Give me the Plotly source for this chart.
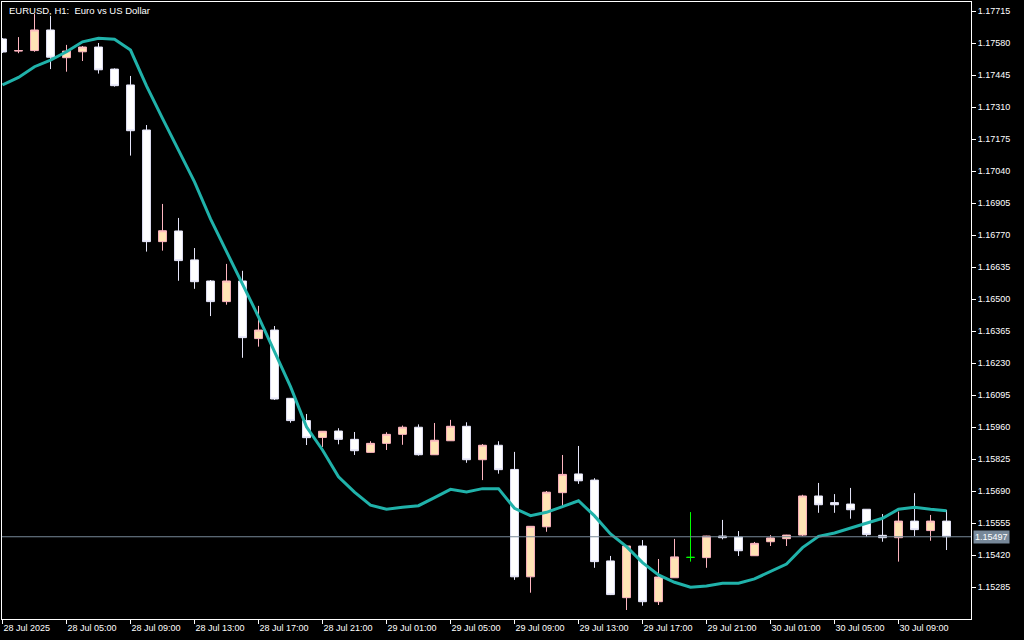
import plotly.graph_objects as go

# ---------------- data (EURUSD H1, 28 Jul 01:00 -> 30 Jul 12:00) ----------------
bars = list(range(60))

opens = [1.17597, 1.17546, 1.17548, 1.17635, 1.17518, 1.17543, 1.17563, 1.17470, 1.17403, 1.17213,
         1.16742, 1.16787, 1.16665, 1.16576, 1.16489, 1.16576, 1.16333, 1.16369, 1.16081, 1.15987,
         1.15916, 1.15943, 1.15908, 1.15853, 1.15891, 1.15929, 1.15959, 1.15843, 1.15902, 1.15963,
         1.15822, 1.15883, 1.15781, 1.15328, 1.15539, 1.15683, 1.15762, 1.15736, 1.15395, 1.15240,
         1.15458, 1.15223, 1.15324, 1.15410, 1.15409, 1.15500, 1.15496, 1.15417, 1.15476, 1.15489,
         1.15504, 1.15669, 1.15641, 1.15635, 1.15613, 1.15503, 1.15493, 1.15563, 1.15523, 1.15563]

highs = [1.17601, 1.17605, 1.17702, 1.17694, 1.17572, 1.17567, 1.17580, 1.17473, 1.17441, 1.17234,
         1.16901, 1.16842, 1.16715, 1.16580, 1.16648, 1.16619, 1.16471, 1.16386, 1.16082, 1.16015,
         1.15943, 1.15955, 1.15939, 1.15900, 1.15938, 1.15966, 1.15971, 1.15977, 1.15990, 1.15980,
         1.15888, 1.15900, 1.15855, 1.15542, 1.15690, 1.15842, 1.15880, 1.15744, 1.15416, 1.15458,
         1.15483, 1.15403, 1.15488, 1.15601, 1.15501, 1.15568, 1.15521, 1.15475, 1.15504, 1.15505,
         1.15674, 1.15724, 1.15677, 1.15703, 1.15614, 1.15593, 1.15603, 1.15681, 1.15589, 1.15610]

lows = [1.17538, 1.17537, 1.17543, 1.17470, 1.17459, 1.17504, 1.17451, 1.17396, 1.17105, 1.16700,
        1.16704, 1.16577, 1.16543, 1.16428, 1.16476, 1.16252, 1.16299, 1.16074, 1.15978, 1.15884,
        1.15876, 1.15887, 1.15842, 1.15852, 1.15863, 1.15885, 1.15839, 1.15842, 1.15901, 1.15809,
        1.15736, 1.15763, 1.15315, 1.15261, 1.15518, 1.15627, 1.15720, 1.15366, 1.15251, 1.15188,
        1.15206, 1.15209, 1.15323, 1.15392, 1.15366, 1.15486, 1.15416, 1.15416, 1.15458, 1.15458,
        1.15500, 1.15598, 1.15598, 1.15573, 1.15497, 1.15476, 1.15392, 1.15500, 1.15480, 1.15441]

closes = [1.17542, 1.17548, 1.17635, 1.17520, 1.17546, 1.17563, 1.17467, 1.17400, 1.17210, 1.16742,
          1.16788, 1.16662, 1.16573, 1.16489, 1.16576, 1.16337, 1.16369, 1.16078, 1.15987, 1.15915,
          1.15942, 1.15908, 1.15860, 1.15891, 1.15929, 1.15959, 1.15843, 1.15904, 1.15963, 1.15822,
          1.15883, 1.15780, 1.15328, 1.15541, 1.15685, 1.15760, 1.15733, 1.15392, 1.15253, 1.15458,
          1.15223, 1.15327, 1.15412, 1.15410, 1.15500, 1.15493, 1.15438, 1.15469, 1.15492, 1.15504,
          1.15669, 1.15632, 1.15632, 1.15611, 1.15506, 1.15493, 1.15563, 1.15527, 1.15563, 1.15497]

ma_values = [1.17403, 1.17435, 1.17480, 1.17508, 1.17543, 1.17585, 1.17600, 1.17596, 1.17550, 1.17399,
             1.17262, 1.17129, 1.16994, 1.16838, 1.16700, 1.16559, 1.16425, 1.16278, 1.16130, 1.15961,
             1.15863, 1.15750, 1.15685, 1.15630, 1.15613, 1.15621, 1.15628, 1.15662, 1.15697, 1.15686,
             1.15700, 1.15700, 1.15617, 1.15586, 1.15600, 1.15624, 1.15649, 1.15585, 1.15509, 1.15455,
             1.15388, 1.15336, 1.15305, 1.15284, 1.15289, 1.15301, 1.15301, 1.15319, 1.15350, 1.15382,
             1.15451, 1.15499, 1.15513, 1.15533, 1.15554, 1.15575, 1.15613, 1.15621, 1.15613, 1.15607]

bid_price = 1.15497

x_tick_bars = [0, 4, 8, 12, 16, 20, 24, 28, 32, 36, 40, 44, 48, 52, 56]
x_tick_labels = ["28 Jul 2025", "28 Jul 05:00", "28 Jul 09:00", "28 Jul 13:00", "28 Jul 17:00",
                 "28 Jul 21:00", "29 Jul 01:00", "29 Jul 05:00", "29 Jul 09:00", "29 Jul 13:00",
                 "29 Jul 17:00", "29 Jul 21:00", "30 Jul 01:00", "30 Jul 05:00", "30 Jul 09:00"]

y_tick_labels = ["1.17715", "1.17580", "1.17445", "1.17310", "1.17175", "1.17040", "1.16905",
                 "1.16770", "1.16635", "1.16500", "1.16365", "1.16230", "1.16095", "1.15960",
                 "1.15825", "1.15690", "1.15555", "1.15420", "1.15285"]
y_tick_vals = [float(t) for t in y_tick_labels]

title_text = "EURUSD, H1:  Euro vs US Dollar"

# ---------------- styling ----------------
FONT = "Liberation Sans"
UP_FILL, UP_LINE = "#FFE4B5", "#FFB6C1"
DN_FILL, DN_LINE = "#FFFFFF", "#E6E6FA"
DOJI = "#00FF00"
MA_COLOR = "#20B2AA"
BID_COLOR = "#778899"

normal = [i for i in bars if opens[i] != closes[i]]
doji = [i for i in bars if opens[i] == closes[i]]

fig = go.Figure()

fig.add_trace(go.Candlestick(
    x=[bars[i] for i in normal],
    open=[opens[i] for i in normal], high=[highs[i] for i in normal],
    low=[lows[i] for i in normal], close=[closes[i] for i in normal],
    increasing=dict(fillcolor=UP_FILL, line=dict(color=UP_LINE, width=1)),
    decreasing=dict(fillcolor=DN_FILL, line=dict(color=DN_LINE, width=1)),
    whiskerwidth=0, hoverinfo="skip", showlegend=False,
))

fig.add_trace(go.Candlestick(
    x=[bars[i] for i in doji],
    open=[opens[i] for i in doji], high=[highs[i] for i in doji],
    low=[lows[i] for i in doji], close=[closes[i] for i in doji],
    increasing=dict(fillcolor=DOJI, line=dict(color=DOJI, width=1)),
    decreasing=dict(fillcolor=DOJI, line=dict(color=DOJI, width=1)),
    whiskerwidth=0, hoverinfo="skip", showlegend=False,
))

fig.add_trace(go.Scatter(
    x=bars, y=ma_values, mode="lines",
    line=dict(color=MA_COLOR, width=3), hoverinfo="skip", showlegend=False,
))

# current bid line
fig.add_hline(y=bid_price, line=dict(color=BID_COLOR, width=1))

fig.add_annotation(
    x=1, xref="paper", y=bid_price, yref="y", xanchor="left", yanchor="middle",
    xshift=2, text=f"{bid_price:.5f}", showarrow=False,
    font=dict(family=FONT, size=9, color="white"), bgcolor=BID_COLOR, borderpad=1,
)

fig.add_annotation(
    x=0.005, xref="paper", y=0.987, yref="paper", xanchor="left", yanchor="middle",
    text=title_text, showarrow=False,
    font=dict(family=FONT, size=9.5, color="white"),
)

fig.update_layout(
    width=1024, height=640,
    margin=dict(l=2, r=53, t=2, b=21),
    paper_bgcolor="black", plot_bgcolor="black",
    showlegend=False, hovermode=False,
    font=dict(family=FONT, size=9, color="white"),
    boxgap=0.3,
    xaxis=dict(
        range=[-0.031, 60.53], showgrid=False, zeroline=False,
        rangeslider=dict(visible=False),
        tickmode="array", tickvals=x_tick_bars, ticktext=x_tick_labels,
        ticks="outside", ticklen=4, tickcolor="white", tickwidth=1,
        ticklabelposition="outside right",
        tickfont=dict(family=FONT, size=9, color="white"),
        showline=True, linecolor="white", linewidth=1, mirror=True,
        fixedrange=True,
    ),
    yaxis=dict(
        range=[1.15150, 1.17753], side="right", showgrid=False, zeroline=False,
        tickmode="array", tickvals=y_tick_vals, ticktext=y_tick_labels,
        ticks="outside", ticklen=4, tickcolor="white", tickwidth=1,
        tickfont=dict(family=FONT, size=9, color="white"),
        showline=True, linecolor="white", linewidth=1, mirror=True,
        fixedrange=True,
    ),
)

fig.write_html(
    "out.html",
    config={"displayModeBar": False, "staticPlot": True},
    post_script="document.body.style.margin='0';document.body.style.background='#000';",
)
